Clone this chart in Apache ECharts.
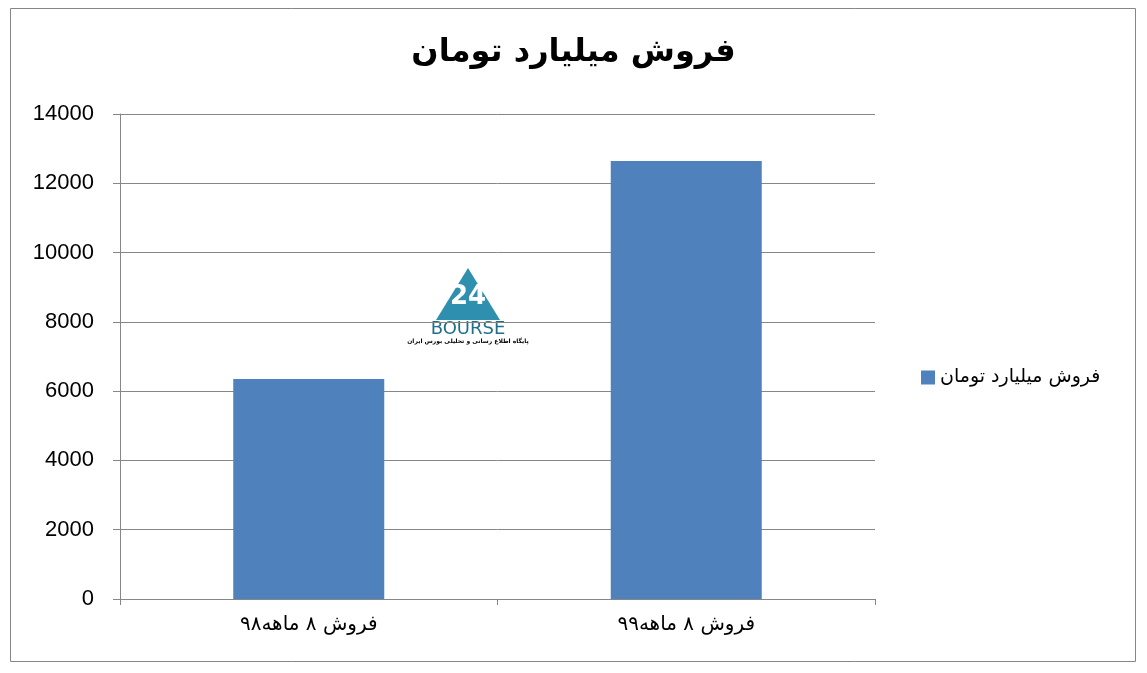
<!DOCTYPE html>
<html><head><meta charset="utf-8">
<script src="https://cdn.jsdelivr.net/npm/echarts@6/dist/echarts.min.js"></script>
<style>html,body{margin:0;padding:0;background:#fff}#c{width:1147px;height:673px}</style>
</head><body><div id="c"></div>
<script>
const categories = ['فروش ۸ ماهه۹۸', 'فروش ۸ ماهه۹۹'];
const seriesName = 'فروش میلیارد تومان';
const salesValues = [6350, 12640];
const titleText = 'فروش میلیارد تومان';

const chart = echarts.init(document.getElementById('c'), null, {renderer: 'canvas'});
chart.setOption({
  animation: false,
  backgroundColor: '#fff',
  title: {
    text: titleText, left: 'center', top: 32,
    textStyle: {fontFamily: 'DejaVu Sans', fontWeight: 'bold', fontSize: 32, color: '#000'}
  },
  legend: {
    data: [seriesName], left: 916, top: 363, orient: 'vertical',
    icon: 'rect', itemWidth: 14, itemHeight: 14, itemGap: 6,
    textStyle: {fontFamily: 'DejaVu Sans', fontSize: 19, color: '#000'}
  },
  grid: {left: 120, right: 272, top: 114, bottom: 74},
  xAxis: {
    type: 'category', data: categories,
    axisLine: {lineStyle: {color: '#868686', width: 1}},
    axisTick: {show: true, length: 6, lineStyle: {color: '#868686'}},
    axisLabel: {fontFamily: 'DejaVu Sans', fontSize: 20, color: '#000', margin: 16}
  },
  yAxis: {
    type: 'value', min: 0, max: 14000, interval: 2000,
    axisLine: {show: true, lineStyle: {color: '#868686'}},
    axisTick: {show: true, length: 7, lineStyle: {color: '#868686'}},
    axisLabel: {fontFamily: 'Liberation Sans', fontSize: 22, color: '#000', margin: 26,
      formatter: v => String(v)},
    splitLine: {lineStyle: {color: '#868686', width: 1}}
  },
  series: [{
    name: seriesName, type: 'bar', data: salesValues, barWidth: '40%',
    itemStyle: {color: '#4f81bd'}
  }],
  graphic: [
    {type: 'rect', shape: {x: 10.5, y: 8.5, width: 1125, height: 653},
     style: {fill: 'none', stroke: '#868686', lineWidth: 1}, z: 0, silent: true},
    {type: 'group', x: 418, y: 254, z: 100, children: [
      {type: 'rect', shape: {x: 0, y: 0, width: 100, height: 96}, style: {fill: '#fff'}},
      {type: 'polygon', shape: {points: [[50, 14], [82, 66], [18, 66]]}, style: {fill: '#2e8fae'}},
      {type: 'text', style: {x: 50, y: 30, text: '24', fill: '#fff', fontSize: 26, fontWeight: 'bold', fontFamily: 'DejaVu Sans', align: 'center'}},
      {type: 'text', style: {x: 50, y: 66, text: 'BOURSE', fill: '#1f6f8b', fontSize: 18, fontFamily: 'DejaVu Sans', align: 'center'}},
      {type: 'text', style: {x: 50, y: 84, text: 'پایگاه اطلاع رسانی و تحلیلی بورس ایران', fill: '#000', fontSize: 6, fontWeight: 'bold', fontFamily: 'DejaVu Sans', align: 'center'}}
    ]}
  ]
});
</script></body></html>
